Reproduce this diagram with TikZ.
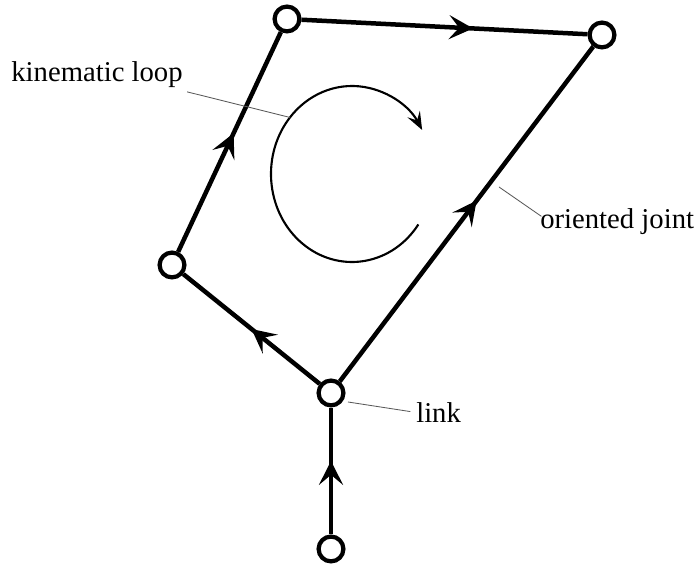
\documentclass[tikz,border=0pt]{standalone}
\usepackage{fontspec}
\setmainfont{Liberation Serif}
\newfontfamily\labelfont{Liberation Serif}
\usetikzlibrary{arrows.meta,positioning,calc,decorations.markings}

\begin{document}
\begin{tikzpicture}[
    x=0.025cm, y=0.025cm,
    link/.style={circle, draw, fill=white, line width=3pt, minimum size=0.62cm, inner sep=0pt},
    joint/.style={line width=3.2pt, postaction={decorate}, decoration={markings,
        mark=at position #1 with {\arrow{Stealth[length=0.6cm, width=0.6cm, inset=0.25cm]}}}},
    joint/.default=0.55,
    leader/.style={draw, gray!70!black, line width=0.6pt},
    label/.style={font=\labelfont\fontsize{20.4}{24}\selectfont, inner sep=0pt}
]
    \useasboundingbox (0,0) rectangle (700,569);

    % Links
    \node[link] (tl) at (287,550) {};
    \node[link] (tr) at (602,534) {};
    \node[link] (lf) at (172,304) {};
    \node[link] (bm) at (331,176) {};
    \node[link] (bt) at (331,20) {};

    % Oriented joints
    \draw[joint=0.58] (bt) -- (bm);
    \draw[joint=0.5] (bm) -- (lf);
    \draw[joint=0.54] (lf) -- (tl);
    \draw[joint=0.6] (tl) -- (tr);
    \draw[joint=0.54] (bm) -- (tr);

    % Kinematic loop
    \coordinate (c) at (352,395);
    \draw[line width=1.5pt, -{Stealth[length=0.45cm, width=0.35cm, inset=0.18cm]}]
        ($(c)+({81*cos(-35)},{88*sin(-35)})$)
        arc[start angle=-35, end angle=-330, x radius=81, y radius=88];

    % Labels
    \node[label] (kl) at (97,494) {kinematic loop};
    \node[label, anchor=west] (oj) at (540,347) {oriented joint};
    \node[label, anchor=west] (lk) at (416,156) {link};

    \coordinate (klend) at ($(c)+({81*cos(140)},{88*sin(140)})$);
    \coordinate (ojstart) at (499,382);
    \coordinate (lkstart) at (348,167);
    \draw[leader] ([xshift=3pt,yshift=-12pt]kl.east) -- (klend);
    \draw[leader] (ojstart) -- ([xshift=1pt,yshift=4pt]oj.west);
    \draw[leader] (lkstart) -- ([xshift=-4pt,yshift=1pt]lk.west);

\end{tikzpicture}
\end{document}
